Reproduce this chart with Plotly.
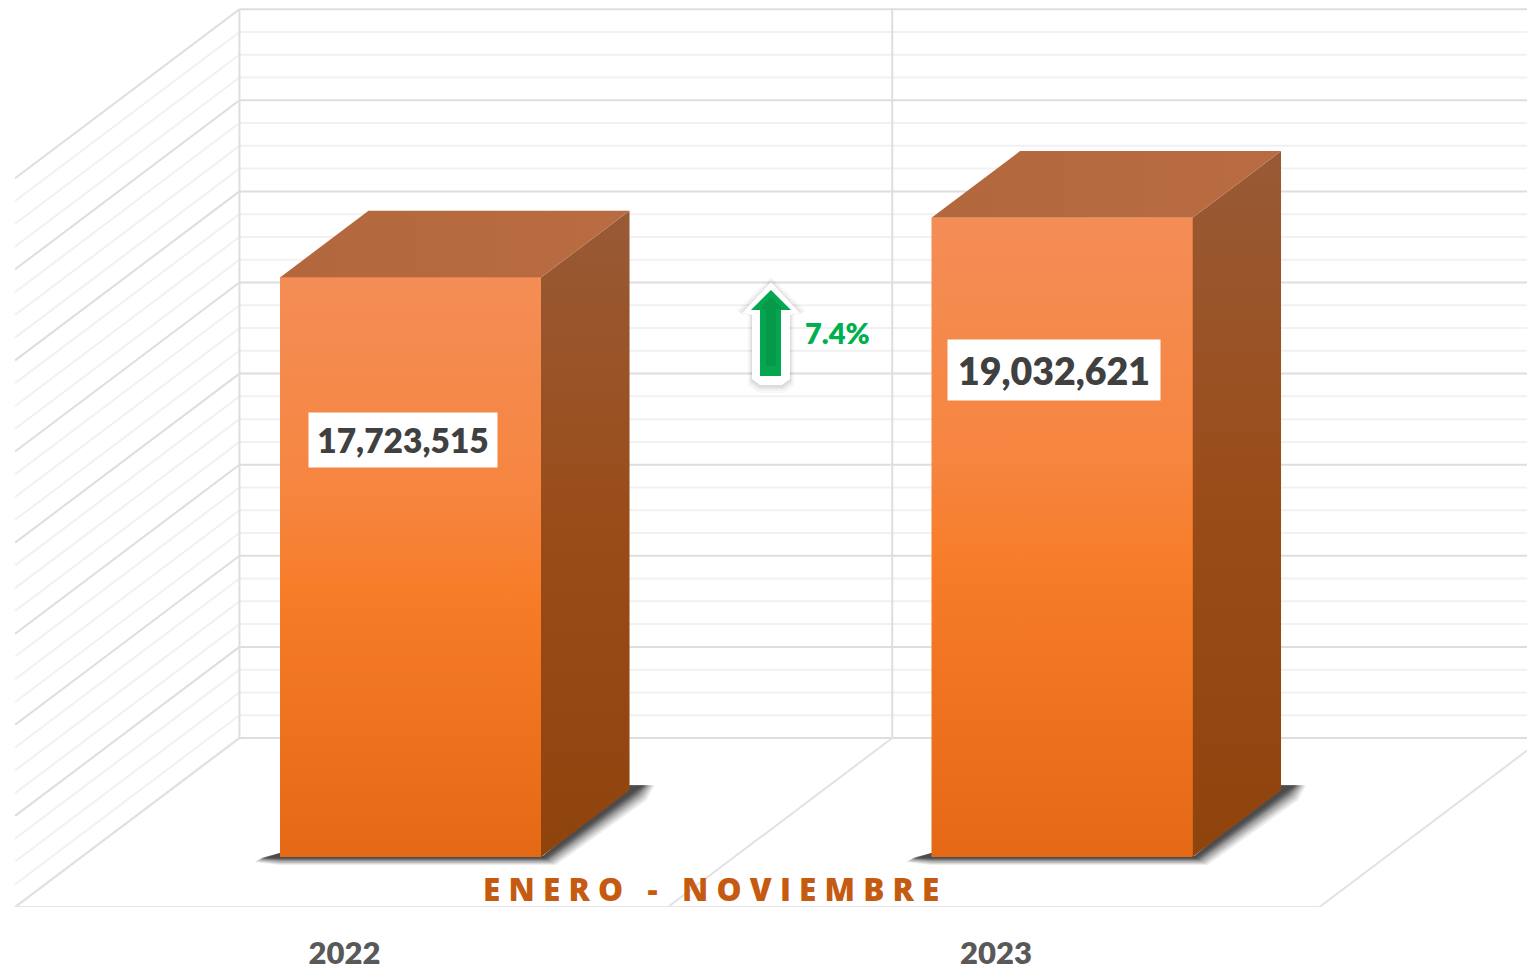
import plotly.graph_objects as go

# ---- data ----
CATEGORIES = ["2022", "2023"]
VALUES = [17723515, 19032621]
VALUE_LABELS = ["17,723,515", "19,032,621"]
GROWTH_LABEL = "7.4%"
PERIOD_LABEL = "E N E R O   -   N O V I E M B R E"

# ---- axis scale of the picture ----
W, H = 1527, 971
PLOT_H = 907
PX_PER_CAT = 651.5
CAT0_PX = 410.5
AXIS_MIN = 5_000_000      # value sitting on the floor of the bar plane
AXIS_STEP = 2_000_000
MINOR_STEP = 500_000
VAL_PER_PX = AXIS_STEP / 91.1
FLOOR_PX = 857

x_range = [-CAT0_PX / PX_PER_CAT, (W - CAT0_PX) / PX_PER_CAT]
y_range = [AXIS_MIN - (PLOT_H - FLOOR_PX) * VAL_PER_PX, AXIS_MIN + FLOOR_PX * VAL_PER_PX]

# depth projection: d = 1 moves 223 px right and 168 px up
DX = 223 / PX_PER_CAT
DV = 168 * VAL_PER_PX
BAR_W = 261 / PX_PER_CAT
BAR_D = 0.397
WALL_BACK = 119 / 168
WALL_FRONT = -50 / 168
WALL_EDGES = [-0.505, 0.497, 1.497]


def proj(u, v, d=0.0):
    return u + d * DX, v + d * DV


MAJOR = "#DEDEDE"
MINOR = "#F1F1F1"
shapes = []


def seg(p, q, color, width=2):
    shapes.append(dict(type="line", xref="x", yref="y", layer="below",
                       x0=p[0], y0=p[1], x1=q[0], y1=q[1],
                       line=dict(color=color, width=width)))


# horizontal lines on back and side walls (minor first, majors on top)
grid_values = [AXIS_MIN + i * MINOR_STEP for i in range(33)]
for only_major in (False, True):
    for v in grid_values:
        is_major = (v - AXIS_MIN) % AXIS_STEP == 0
        if is_major != only_major:
            continue
        c = MAJOR if is_major else MINOR
        seg(proj(WALL_EDGES[0], v, WALL_BACK), proj(3.0, v, WALL_BACK), c)
        seg(proj(WALL_EDGES[0], v, WALL_BACK), proj(WALL_EDGES[0], v, WALL_FRONT), c)

# vertical wall dividers and floor
top_val = grid_values[-1]
for e in WALL_EDGES:
    seg(proj(e, AXIS_MIN, WALL_BACK), proj(e, top_val, WALL_BACK), MAJOR)
    seg(proj(e, AXIS_MIN, WALL_BACK), proj(e, AXIS_MIN, WALL_FRONT), "#E2E2E2")
seg(proj(WALL_EDGES[0], AXIS_MIN, WALL_FRONT), proj(WALL_EDGES[2], AXIS_MIN, WALL_FRONT), "#E6E6E6")

fig = go.Figure()

# real bars
fig.add_trace(go.Bar(x=[0, 1], y=[v - AXIS_MIN for v in VALUES], base=AXIS_MIN, width=BAR_W,
                     marker=dict(color="#F77E2C", line=dict(width=0)), hoverinfo="skip", showlegend=False))


def poly(points, **kw):
    xs = [p[0] for p in points] + [points[0][0]]
    ys = [p[1] for p in points] + [points[0][1]]
    fig.add_trace(go.Scatter(x=xs, y=ys, mode="lines", fill="toself", line=dict(width=0),
                             hoverinfo="skip", showlegend=False, **kw))


PXU = 1 / PX_PER_CAT
PXV = VAL_PER_PX
for i, v in enumerate(VALUES):
    l, r = i - BAR_W / 2, i + BAR_W / 2
    bx, bv = r + BAR_D * DX, AXIS_MIN + BAR_D * DV
    # soft floor shadow: nested translucent outlines
    for g, alpha in ((10, 0.08), (8.5, 0.10), (7, 0.13), (5.5, 0.15), (4, 0.17), (3, 0.19), (2, 0.2), (1, 0.2), (0, 0.2)):
        poly([
            (l - (18 + g * 0.8) * PXU, AXIS_MIN - (0.5 + g * 0.45) * PXV),
            (l, AXIS_MIN + 4 * PXV),
            (r - 2 * PXU, AXIS_MIN + 1 * PXV),
            (r + 2 * PXU, AXIS_MIN + 1 * PXV),
            (bx, bv + 5 * PXV),
            (bx + (14 + g * 1.1) * PXU, bv + 5 * PXV),
            (bx + (5 + g * 1.2) * PXU, bv - (1 + g * 0.9) * PXV),
            (r + (3 + g * 1.2) * PXU, AXIS_MIN - (1 + g * 0.7) * PXV),
            (l, AXIS_MIN - (1 + g * 0.7) * PXV),
        ], fillcolor=f"rgba(30,30,30,{alpha})")

    # side face
    poly([proj(r, AXIS_MIN), proj(r, AXIS_MIN, BAR_D), proj(r, v, BAR_D), proj(r, v)],
         fillgradient=dict(type="vertical",
                           colorscale=[[0, "#8F430D"], [0.5, "#9A4C18"], [1, "#985A36"]]))
    # top face
    poly([proj(l, v), proj(r, v), proj(r, v, BAR_D), proj(l, v, BAR_D)],
         fillgradient=dict(type="horizontal", colorscale=[[0, "#B3673C"], [1, "#B96C41"]]))
    # front face with gradient
    poly([proj(l, AXIS_MIN), proj(r, AXIS_MIN), proj(r, v), proj(l, v)],
         fillgradient=dict(type="vertical",
                           colorscale=[[0, "#E56915"], [0.45, "#F77C27"], [0.62, "#F6853F"], [1, "#F48D56"]]))


# ---- growth arrow (decorative, placed in page pixels) ----
def path(pts):
    return "M " + " L ".join(f"{x / W:.5f} {1 - y / PLOT_H:.5f}" for x, y in pts) + " Z"


outline = [(771, 282), (800, 313), (790, 315), (790, 379), (782, 385), (760, 385), (752, 379), (752, 315), (742, 313)]
for grow, alpha in ((7, 0.02), (5, 0.03), (3, 0.04), (1.5, 0.05)):
    pts = [(771 + (x - 771) * (1 + grow / 30), 333 + (y - 333) * (1 + grow / 52) + 1) for x, y in outline]
    shapes.append(dict(type="path", xref="paper", yref="paper", layer="above", path=path(pts),
                       fillcolor=f"rgba(0,0,0,{alpha})", line=dict(width=0)))
shapes.append(dict(type="path", xref="paper", yref="paper", layer="above", path=path(outline),
                   fillcolor="white", line=dict(width=0)))
shapes.append(dict(type="path", xref="paper", yref="paper", layer="above",
                   path=path([(771, 290), (791, 310), (781, 310), (781, 376), (760, 376), (760, 310), (751, 310)]),
                   fillcolor="#05A64F", line=dict(width=0)))
shapes.append(dict(type="path", xref="paper", yref="paper", layer="above",
                   path=path([(771, 297), (782, 309), (776, 309), (776, 366), (766, 366), (766, 309), (760, 309)]),
                   fillcolor="#07994A", line=dict(width=0)))

# ---- texts ----
annotations = []
boxes = [(188, 54, -7.5, -163, 33.5), (212, 60, -8.5, -152, 37.5)]
for i, v in enumerate(VALUES):
    bw, bh, xs, ys, fs = boxes[i]
    annotations.append(dict(x=i, y=v, xref="x", yref="y", xshift=xs, yshift=ys, text=VALUE_LABELS[i],
                            showarrow=False, bgcolor="white", width=bw, height=bh, borderpad=0,
                            font=dict(family="Lato", size=fs, color="#404040", weight=800)))
annotations.append(dict(x=837 / W, y=1 - 333 / PLOT_H, xref="paper", yref="paper", text=GROWTH_LABEL,
                        xanchor="center", yanchor="middle",
                        showarrow=False, font=dict(family="Lato", size=29, color="#00B050", weight=800)))
annotations.append(dict(x=711 / W, y=1 - 888 / PLOT_H, xref="paper", yref="paper", text=PERIOD_LABEL,
                        xanchor="center", yanchor="middle",
                        showarrow=False, font=dict(family="Open Sans", size=31.5, color="#C55A11", weight=800)))

fig.update_layout(
    width=W, height=H, margin=dict(l=0, r=0, t=0, b=H - PLOT_H, pad=0),
    paper_bgcolor="white", plot_bgcolor="white", showlegend=False, bargap=0,
    shapes=shapes, annotations=annotations,
    xaxis=dict(range=x_range, showgrid=False, zeroline=False, showline=False, fixedrange=True, automargin=False,
               tickmode="array", tickvals=[i - 66 / PX_PER_CAT for i in range(2)], ticktext=list(CATEGORIES),
               ticks="outside", ticklen=19, tickcolor="rgba(0,0,0,0)",
               tickfont=dict(family="Lato", size=31, color="#595959", weight=800)),
    yaxis=dict(range=y_range, visible=False, fixedrange=True, automargin=False),
)

fig.write_html("out.html", config={"displayModeBar": False},
               post_script="document.body.style.margin='0';document.documentElement.style.overflow='hidden';")
